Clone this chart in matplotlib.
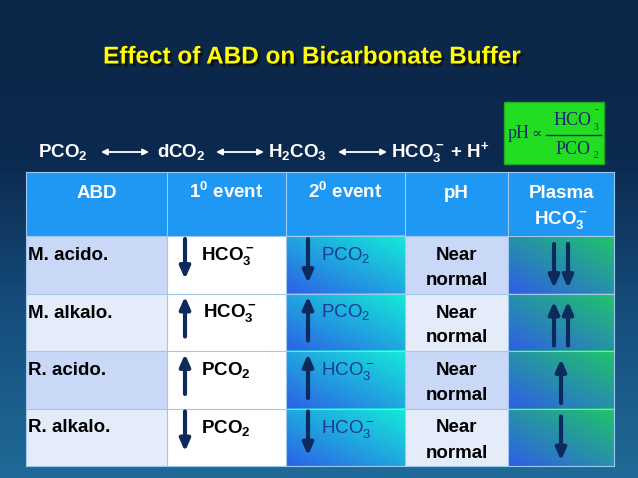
import numpy as np
import matplotlib.pyplot as plt
import matplotlib.patheffects as pe
from matplotlib.patches import Rectangle
from matplotlib.colors import LinearSegmentedColormap

plt.rcParams['font.family'] = ['Liberation Sans', 'DejaVu Sans']
plt.rcParams['mathtext.fontset'] = 'custom'
plt.rcParams['mathtext.rm'] = 'Liberation Sans'
plt.rcParams['mathtext.bf'] = 'Liberation Sans:bold'
plt.rcParams['mathtext.it'] = 'Liberation Sans:italic'

title = 'Effect of ABD on Bicarbonate Buffer'
headers = ['ABD', r'1$^\mathbf{0}$ event', r'2$^\mathbf{0}$ event', 'pH', 'Plasma']
disorders = ['M. acido.', 'M. alkalo.', 'R. acido.', 'R. alkalo.']
first_label = [r'$\mathbf{HCO_3^-}$', r'$\mathbf{HCO_3^-}$', r'$\mathbf{PCO_2}$', r'$\mathbf{PCO_2}$']
first_dir = [-1, 1, 1, -1]
second_label = [r'PCO$_2$', r'PCO$_2$', r'HCO$_3^-$', r'HCO$_3^-$']
second_dir = [-1, 1, 1, -1]
plasma_dirs = [[-1, -1], [1, 1], [1], [-1]]

W, H = 638, 478
fig = plt.figure(figsize=(W / 100, H / 100), dpi=100)
ax = fig.add_axes([0, 0, 1, 1])
ax.set_xlim(0, W)
ax.set_ylim(H, 0)
ax.axis('off')

# background gradient
bg = np.linspace(0, 1, 100)[:, None]
bgmap = LinearSegmentedColormap.from_list('bg', ['#0b2748', '#0b2a50', '#164f7e', '#1f6a98'])
ax.imshow(bg, cmap=bgmap, extent=[0, W, H, 0], aspect='auto', zorder=0)

# title with shadow
ax.text(312, 57, title, ha='center', va='center', fontsize=17.5, fontweight='bold', color='#ffff00', zorder=3,
        path_effects=[pe.withSimplePatchShadow(offset=(2, -2), shadow_rgbFace='#111111', alpha=0.9)])

# reaction line
eq_y = 157
fs = 13.5
parts = [(38, r'$\mathbf{PCO_2}$'), (157, r'$\mathbf{dCO_2}$'), (268, r'$\mathbf{H_2CO_3}$'),
         (391, r'$\mathbf{HCO_3^-}$ + H$^\mathbf{+}$')]
for x, s in parts:
    ax.text(x, eq_y, s, ha='left', va='baseline', fontsize=fs, fontweight='bold', color='white', zorder=3)
for x0, x1 in [(101, 149), (216, 264), (338, 387)]:
    ax.annotate('', xy=(x1, eq_y - 5), xytext=(x0, eq_y - 5),
                arrowprops=dict(arrowstyle='<|-|>', color='white', lw=1.3, mutation_scale=9,
                                shrinkA=0, shrinkB=0), zorder=3)

# green formula box
ax.add_patch(Rectangle((504, 102), 100, 62, facecolor='#22dd22', edgecolor='#22aa22', zorder=2))
serif = ['Liberation Serif', 'DejaVu Serif']
ink = '#1a2a6a'
ax.text(508, 134, 'pH', family=serif, fontsize=13, color=ink, va='center', zorder=3)
ax.text(531, 134, '\u221d', family=['DejaVu Serif'], fontsize=11, color=ink, va='center', zorder=3)
ax.text(573, 120, 'HCO', family=serif, fontsize=13, color=ink, ha='center', va='center', zorder=3)
ax.text(594, 127, '3', family=serif, fontsize=7, color=ink, va='center', zorder=3)
ax.text(595, 110, '-', family=serif, fontsize=8, color=ink, va='center', zorder=3)
ax.plot([546, 601], [135, 135], color=ink, lw=1, zorder=3)
ax.text(573, 150, 'PCO', family=serif, fontsize=13, color=ink, ha='center', va='center', zorder=3)
ax.text(594, 156, '2', family=serif, fontsize=7, color=ink, va='center', zorder=3)

# table
cols = [26, 167, 286, 405, 508, 614]
header_top, header_bot = 172, 236
row_h = 57.5
navy = '#0d2a5c'

def grad_cell(x0, x1, y0, y1, c_a, c_b):
    g = np.add.outer(np.linspace(0, 1, 40), np.linspace(0, 1, 40)) / 2
    cm = LinearSegmentedColormap.from_list('c', [c_a, c_b])
    ax.imshow(g[::-1], cmap=cm, extent=[x0, x1, y1, y0], aspect='auto', zorder=1)

def v_arrow(x, yc, d, length=40):
    # d = 1 points up (smaller y on screen), d = -1 points down
    y_head = yc - d * length / 2
    y_tail = yc + d * length / 2
    ax.annotate('', xy=(x, y_head), xytext=(x, y_tail),
                arrowprops=dict(arrowstyle='-|>,head_length=0.5,head_width=0.22', color=navy, lw=3,
                                mutation_scale=14, shrinkA=0, shrinkB=0), zorder=4)

ax.add_patch(Rectangle((cols[0], header_top), cols[-1] - cols[0], header_bot - header_top,
                       facecolor='#1e98f2', edgecolor='none', zorder=1))
for j, h in enumerate(headers):
    xc = (cols[j] + cols[j + 1]) / 2
    ax.text(xc, header_top + 26, h, ha='center', va='baseline', fontsize=fs, fontweight='bold',
            color='white', zorder=3)
ax.text((cols[4] + cols[5]) / 2, header_top + 52, r'$\mathbf{HCO_3^-}$', ha='center', va='baseline',
        fontsize=fs, color='white', zorder=3)

for i in range(4):
    y0 = header_bot + i * row_h
    y1 = y0 + row_h
    light = '#c9d8f6' if i % 2 == 0 else '#e4ecfa'
    ax.add_patch(Rectangle((cols[0], y0), cols[1] - cols[0], row_h, facecolor=light, edgecolor='none', zorder=1))
    ax.add_patch(Rectangle((cols[1], y0), cols[2] - cols[1], row_h, facecolor='white', edgecolor='none', zorder=1))
    grad_cell(cols[2], cols[3], y0, y1, '#2c62e6', '#14ead8')
    ax.add_patch(Rectangle((cols[3], y0), cols[4] - cols[3], row_h, facecolor=light, edgecolor='none', zorder=1))
    grad_cell(cols[4], cols[5], y0, y1, '#2f5ee6', '#1fc46a')

    base = y0 + 24
    ax.text(cols[0] + 2, base, disorders[i], ha='left', va='baseline', fontsize=fs,
            fontweight='bold', color='black', zorder=3)
    v_arrow(cols[1] + 18, y0 + 23, first_dir[i], length=40)
    ax.text(cols[1] + 34 + (2 if i == 1 else 0), base, first_label[i], ha='left', va='baseline', fontsize=fs,
            color='black', zorder=3)
    v_arrow(cols[2] + 22, y0 + 25, second_dir[i], length=44)
    ax.text(cols[2] + 35, base, second_label[i], ha='left', va='baseline', fontsize=fs,
            color='#1a3a9a', zorder=3)
    xm = (cols[3] + cols[4]) / 2
    ax.text(xm, base, 'Near', ha='center', va='baseline', fontsize=fs,
            fontweight='bold', color='black', zorder=3)
    ax.text(xm, base + 25, 'normal', ha='center', va='baseline', fontsize=fs,
            fontweight='bold', color='black', zorder=3)
    xc = (cols[4] + cols[5]) / 2
    ds = plasma_dirs[i]
    offs = [-7, 7] if len(ds) == 2 else [0]
    for d, o in zip(ds, offs):
        v_arrow(xc + o, y0 + 30, d, length=44)

# grid lines
for x in cols:
    ax.plot([x, x], [header_top, header_bot + 4 * row_h], color='#9ec8f0', lw=0.8, zorder=2)
for k in range(5):
    y = header_bot + k * row_h
    ax.plot([cols[0], cols[-1]], [y, y], color='#9ec8f0', lw=0.8, zorder=2)
ax.plot([cols[0], cols[-1]], [header_top, header_top], color='#9ec8f0', lw=0.8, zorder=2)

fig.savefig('out.png', dpi=100)
